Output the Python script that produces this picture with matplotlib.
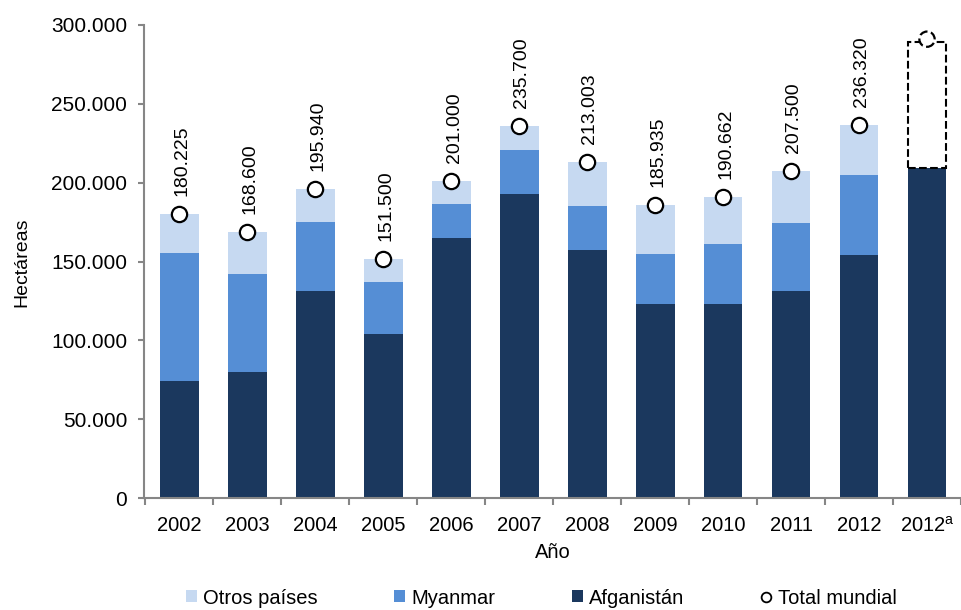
import numpy as np
import matplotlib
matplotlib.use('Agg')
import matplotlib.pyplot as plt
from matplotlib.patches import Patch
from matplotlib.lines import Line2D

plt.rcParams['font.family'] = ['Liberation Sans', 'DejaVu Sans']
plt.rcParams['mathtext.fontset'] = 'custom'
plt.rcParams['mathtext.rm'] = 'Liberation Sans'

# data (hectares)
years = ['2002', '2003', '2004', '2005', '2006', '2007', '2008', '2009', '2010', '2011', '2012', r'2012$^{\rm a}$']
afganistan = [74100, 80000, 131000, 104000, 165000, 193000, 157000, 123000, 123000, 131000, 154000, 209000]
myanmar = [81400, 62200, 44200, 32800, 21500, 27700, 28500, 31700, 38100, 43600, 51000]
totales = [180225, 168600, 195940, 151500, 201000, 235700, 213003, 185935, 190662, 207500, 236320]
otros_2012a = 80000      # dashed range on top of 2012a bar
total_2012a = 291000     # dashed circle

c_light = '#C6D9F1'
c_mid = '#558ED5'
c_dark = '#1B385E'
grey = '#868686'

fig = plt.figure(figsize=(9.61, 6.10), dpi=100)
ax = fig.add_axes([144/961, 112/610, 817/961, 473/610])

x = np.arange(len(years))
w = 0.57
n = len(totales)
otros = [t - a - m for t, a, m in zip(totales, afganistan[:n], myanmar)]

ax.bar(x, afganistan, w, color=c_dark, zorder=2)
ax.bar(x[:n], myanmar, w, bottom=afganistan[:n], color=c_mid, zorder=2)
ax.bar(x[:n], otros, w, bottom=np.array(afganistan[:n]) + np.array(myanmar), color=c_light, zorder=2)

# 2012a estimated range (dashed)
ax.bar(x[-1], otros_2012a, w, bottom=afganistan[-1], facecolor='none', edgecolor='black',
       linestyle='--', linewidth=1.5, zorder=3)

ax.plot(x[:n], totales, 'o', markersize=11, markerfacecolor='white', markeredgecolor='black',
        markeredgewidth=1.6, linestyle='none', zorder=4)
ax.scatter([x[-1]], [total_2012a], s=11**2, facecolors='white', edgecolors='black',
           linewidths=1.6, linestyles='--', zorder=4)

for i, t in enumerate(totales):
    ax.annotate(f'{t:,.0f}'.replace(',', '.'), (i, t), xytext=(2, 13), textcoords='offset points',
                rotation=90, ha='center', va='bottom', fontsize=14)

ax.set_xlim(-0.52, 11.46)
ax.set_ylim(0, 300000)
ax.set_yticks(np.arange(0, 300001, 50000))
ax.set_yticklabels([f'{v:,.0f}'.replace(',', '.') for v in np.arange(0, 300001, 50000)])
ax.set_xticks(x)
ax.set_xticklabels(years)
ax.set_xticks(np.arange(-0.5, 12, 1), minor=True)
ax.tick_params(axis='x', which='major', length=0, pad=13, labelsize=14.5)
ax.tick_params(axis='x', which='minor', length=5, width=1.5, color=grey)
ax.tick_params(axis='y', length=4, width=1.5, color=grey, pad=8, labelsize=15)

for s in ['top', 'right']:
    ax.spines[s].set_visible(False)
for s in ['left', 'bottom']:
    ax.spines[s].set_color(grey)
    ax.spines[s].set_linewidth(1.5)

fig.text(22/961, 0.5705, 'Hectáreas', rotation=90, ha='center', va='center', fontsize=14)
fig.text(553/961, 1 - 553/610, 'Año', ha='center', va='center', fontsize=14.5)

handles = [
    Patch(facecolor=c_light, label='Otros países'),
    Patch(facecolor=c_mid, label='Myanmar'),
    Patch(facecolor=c_dark, label='Afganistán'),
    Line2D([], [], marker='o', linestyle='none', markersize=7, markerfacecolor='white',
           markeredgecolor='black', markeredgewidth=1.3, label='Total mundial'),
]
fig.legend(handles=handles, loc='center', bbox_to_anchor=(0.5635, 1 - 598/610), ncol=4,
           frameon=False, fontsize=14.5, handlelength=0.55, handleheight=0.55,
           handletextpad=0.3, columnspacing=3.8, borderpad=0)

fig.savefig('out.png', dpi=100)
